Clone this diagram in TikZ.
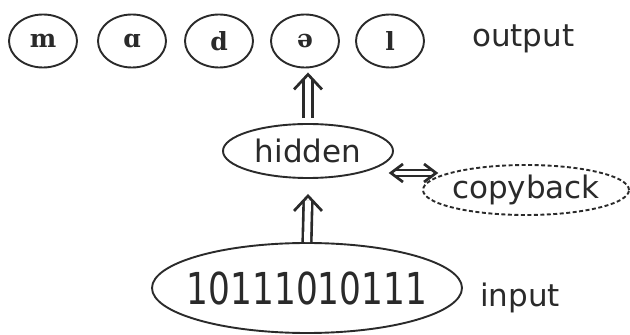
\documentclass[tikz,border=0pt]{standalone}
\usepackage{fontspec}
\setmainfont{DejaVu Sans}
\newfontfamily\ipafont{DejaVu Serif}
\newfontfamily\digitfont[FakeStretch=0.78]{DejaVu Sans}
\usetikzlibrary{shapes.geometric,calc}
\definecolor{ink}{RGB}{42,42,42}
\newcommand{\nowidth}[1]{\makebox[0pt]{#1}}
\tikzset{
  phon/.style={ellipse,draw=ink,line width=1.9pt,minimum width=68pt,minimum height=53pt,inner sep=0pt,text=ink,font=\ipafont\bfseries\fontsize{25}{25}\selectfont},
  unit/.style={ellipse,draw=ink,line width=1.9pt,inner sep=0pt,text=ink,font=\fontsize{31}{31}\selectfont},
  lbl/.style={text=ink,inner sep=0pt,font=\fontsize{31}{31}\selectfont},
  shaft/.style={draw=ink,double=white,double distance=6pt,line width=2.6pt},
  thinshaft/.style={draw=ink,double=white,double distance=4pt,line width=2.4pt},
  chev/.style={draw=ink,line width=2.7pt,miter limit=10,line join=miter,line cap=butt}
}
\begin{document}
\begin{tikzpicture}[x=1pt,y=1pt]
\useasboundingbox (0,0) rectangle (630,335);
\fill[white] (0,0) rectangle (630,335);
% output units
\node[phon] (p1) at (43,294) {m};
\node[phon] (p2) at (132,294) {\char"0251};
\node[phon] (p3) at (219,294) {d};
\node[phon] (p4) at (305,294) {\char"0259};
\node[phon] (p5) at (390,294) {l};
\node[lbl,anchor=base west] (outlbl) at (472,288) {output};
% hidden and copyback
\node[unit,minimum width=170pt,minimum height=54pt] (hidden) at (308,184) {\nowidth{hidden}};
\node[unit,dashed,dash pattern=on 4pt off 2.5pt,minimum width=206pt,minimum height=50pt] (copyback) at (526,145) {\nowidth{copyback}};
% input
\node[unit,minimum width=310pt,minimum height=90pt,font=\digitfont\fontsize{44}{44}\selectfont] (input) at (307,47) {\nowidth{10111010111}};
\node[lbl,anchor=base west] (inlbl) at (480,28) {input};
% connector end points
\coordinate (u0) at ([yshift=5pt]hidden.north);
\coordinate (u1) at ($(p4.south)+(3pt,-6pt)$);
\coordinate (l0) at (input.north);
\coordinate (l1) at ([yshift=-17pt]hidden.south);
\coordinate (h0) at ([xshift=-3pt,yshift=-22pt]hidden.east);
\coordinate (h1) at ([xshift=14pt,yshift=17pt]copyback.west);
% hidden -> output
\draw[shaft] (u0) -- ($(u1)+(0,-5pt)$);
\draw[chev] ($(u1)+(-14pt,-15pt)$) -- (u1) -- ($(u1)+(14pt,-15pt)$);
% input -> hidden
\draw[shaft] (l0) -- ($(l1)+(0,-5pt)$);
\draw[chev] ($(l1)+(-14pt,-15pt)$) -- (l1) -- ($(l1)+(14pt,-15pt)$);
% hidden <-> copyback
\draw[thinshaft] ($(h0)+(4pt,0)$) -- ($(h1)+(-4pt,0)$);
\draw[chev] ($(h0)+(12pt,9pt)$) -- (h0) -- ($(h0)+(12pt,-9pt)$);
\draw[chev] ($(h1)+(-12pt,9pt)$) -- (h1) -- ($(h1)+(-12pt,-9pt)$);
\end{tikzpicture}
\end{document}
